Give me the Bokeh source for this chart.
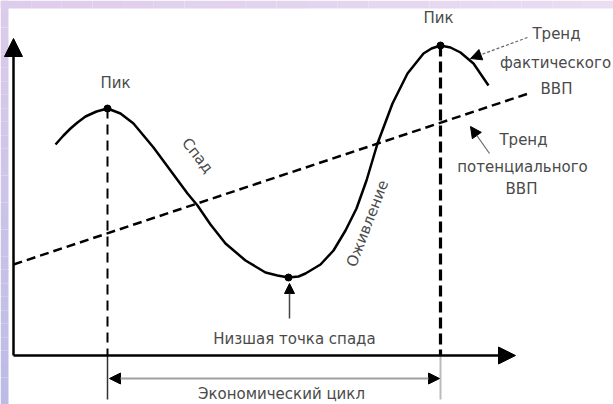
import math
from bokeh.plotting import figure
from bokeh.models import Range1d, Arrow, NormalHead, ColumnDataSource
from bokeh.core.properties import value
from bokeh.embed import file_html
from bokeh.resources import INLINE

# ---- data (time units on x, GDP units on y; origin = axes crossing) ----
actual_x = [42, 50, 57, 64, 72, 83, 94, 107, 120, 140, 157, 174, 184, 197, 212, 232, 252, 264, 275,
            285, 292, 307, 320, 332, 343, 353, 364, 379, 394, 410, 418, 427, 437, 447, 460, 475]
actual_y = [211, 220, 227, 233, 239, 244, 247, 242, 232, 208, 185, 162, 150, 131, 112, 95, 83, 80, 78,
            79, 82, 91, 105, 125, 147, 175, 212, 252, 282, 302, 307, 310, 308, 303, 292, 270]
trend_x = [0, 515]
trend_y = [91, 262]
peak_x = [94, 427]
peak_y = [247, 310]
trough_x = [275]
trough_y = [78]

FONT = value("DejaVu Sans")
TXT = "#4a4a4a"

X0, X1, Y0, Y1 = -13, 600, -49, 355

p = figure(width=613, height=404, output_backend="svg", toolbar_location=None,
           x_axis_type=None, y_axis_type=None,
           x_range=Range1d(X0, X1), y_range=Range1d(Y0, Y1),
           min_border=0, min_border_left=0, min_border_right=0,
           min_border_top=0, min_border_bottom=0)
p.outline_line_color = None
p.grid.visible = False
p.background_fill_color = "white"
p.border_fill_color = "white"

# lavender frame bands (decoration)
def mix(c1, c2, t):
    return "#%02x%02x%02x" % tuple(round(a + (b - a) * t) for a, b in zip(c1, c2))

n = 30
top_c, bot_c = (0xdd, 0xcc, 0xeb), (0xbb, 0xbb, 0xe6)
step = (Y1 - Y0) / n
p.quad(left=[X0] * n, right=[X0 + 8] * n,
       bottom=[Y1 - (i + 1) * step for i in range(n)],
       top=[Y1 - i * step for i in range(n)],
       fill_color=[mix(top_c, bot_c, (i + 0.5) / n) for i in range(n)],
       line_color=None)
m = 20
xs = (X1 - X0) / m
p.quad(left=[X0 + i * xs for i in range(m)], right=[X0 + (i + 1) * xs for i in range(m)],
       bottom=[Y1 - 8] * m, top=[Y1] * m,
       fill_color=[mix((0xdd, 0xcc, 0xeb), (0xe9, 0xdd, 0xf2), (i + 0.5) / m) for i in range(m)],
       line_color=None)

# axes as arrows
p.add_layout(Arrow(end=NormalHead(size=18, fill_color="black", line_color="black"),
                   x_start=0, y_start=0, x_end=0, y_end=317,
                   line_width=2.5, line_color="black"))
p.add_layout(Arrow(end=NormalHead(size=17, fill_color="black", line_color="black"),
                   x_start=0, y_start=0, x_end=502, y_end=0,
                   line_width=2.5, line_color="black"))

# potential GDP trend
p.line(trend_x, trend_y, line_width=2.5, line_color="black", line_dash="9 5")

# vertical peak lines
p.line([peak_x[0], peak_x[0]], [peak_y[0], 0], line_width=2, line_color="black", line_dash="10 6")
p.line([peak_x[1], peak_x[1]], [peak_y[1], 0], line_width=3.2, line_color="black", line_dash="11 5")
p.line([peak_x[0], peak_x[0]], [0, -44], line_width=1.5, line_color="#333333")
p.line([peak_x[1], peak_x[1]], [0, -44], line_width=2, line_color="#bbbbbb")

# actual GDP
p.line(actual_x, actual_y, line_width=2.5, line_color="black", line_join="round")
p.scatter(peak_x + trough_x, peak_y + trough_y, size=7, color="black")

# economic cycle double arrow
p.add_layout(Arrow(start=NormalHead(size=11, fill_color="black", line_color="black"),
                   end=NormalHead(size=11, fill_color="black", line_color="black"),
                   x_start=peak_x[0] + 2, y_start=-23, x_end=peak_x[1] - 1, y_end=-23,
                   line_width=2, line_color="#a0a0a0"))

# arrow to trough
p.add_layout(Arrow(end=NormalHead(size=10, fill_color="black", line_color="black"),
                   x_start=trough_x[0] + 1, y_start=37, x_end=trough_x[0] + 1, y_end=72,
                   line_width=1.5, line_color="#444444"))

# annotation arrows
p.add_layout(Arrow(end=NormalHead(size=11, fill_color="black", line_color="black"),
                   x_start=514, y_start=318, x_end=457, y_end=297,
                   line_width=1.2, line_color="#666666", line_dash="3 2"))
p.add_layout(Arrow(end=NormalHead(size=11, fill_color="black", line_color="black"),
                   x_start=476, y_start=202, x_end=457, y_end=229,
                   line_width=1.2, line_color="#666666"))

# labels
labels = [
    ("Пик", 102, 273, 0),
    ("Пик", 425, 338, 0),
    ("Низшая точка спада", 281, 17, 0),
    ("Экономический цикл", 268, -38, 0),
    ("Тренд", 543, 322, 0),
    ("фактического", 542, 293, 0),
    ("ВВП", 543, 267, 0),
    ("Тренд", 510, 216, 0),
    ("потенциального", 509, 189, 0),
    ("ВВП", 508, 167, 0),
    ("Спад", 184, 200, -52),
    ("Оживление", 354, 132, 69),
]
src = ColumnDataSource(dict(
    t=[l[0] for l in labels], x=[l[1] for l in labels], y=[l[2] for l in labels],
    a=[math.radians(l[3]) for l in labels]))
p.text(x="x", y="y", text="t", angle="a", source=src, text_font=FONT,
       text_font_size="15px", text_color=TXT, text_align="center",
       text_baseline="middle")

open("out.html", "w").write(file_html(p, INLINE))
